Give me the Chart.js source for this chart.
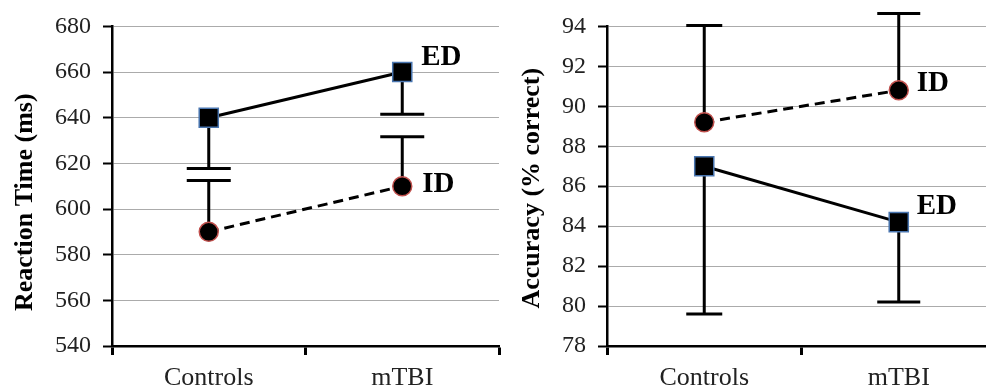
<!DOCTYPE html>
<html>
<head>
<meta charset="utf-8">
<script src="https://cdn.jsdelivr.net/npm/chart.js@4.4.1/dist/chart.umd.min.js"></script>
<style>
  html, body { margin:0; padding:0; background:#fff; overflow:hidden; width:986px; height:390px; }
  #c1 { position:absolute; left:0; top:0; }
  #c2 { position:absolute; left:500px; top:0; }
</style>
</head>
<body>
<canvas id="c1" width="514" height="390"></canvas>
<canvas id="c2" width="511" height="390"></canvas>
<script>
// ---- data ----
const categories = ['Controls', 'mTBI'];
// Reaction time (ms)
const rtED = [640, 660];
const rtID = [590, 610];
const rtEDErrEnd = [617.7, 641.5];   // one-sided (lower) error bar ends
const rtIDErrEnd = [612.5, 631.7];   // one-sided (upper) error bar ends
const rtAxis = { min: 540, max: 680, step: 20 };
// Accuracy (% correct)
const accID = [89.2, 90.8];
const accED = [87.0, 84.2];
const accIDErrEnd = [94.05, 94.65];  // upper
const accEDErrEnd = [79.6, 80.2];    // lower
const accAxis = { min: 78, max: 94, step: 2 };
const seriesTags = ['ED', 'ID'];
const yTitles = ['Reaction Time (ms)', 'Accuracy (% correct)'];

const FONT = "'Liberation Serif', 'Times New Roman', serif";

const errorBarPlugin = {
  id: 'errorBars',
  beforeDatasetsDraw(chart, args, opts) {
    const ctx = chart.ctx;
    const yScale = chart.scales.y;
    ctx.save();
    ctx.strokeStyle = '#000';
    ctx.lineWidth = opts.lineWidth;
    (opts.items || []).forEach(item => {
      const meta = chart.getDatasetMeta(item.datasetIndex);
      const vals = chart.data.datasets[item.datasetIndex].data;
      meta.data.forEach((pt, i) => {
        const x = pt.x;
        const y0 = yScale.getPixelForValue(vals[i]);
        const y1 = yScale.getPixelForValue(item.ends[i]);
        const cw = Array.isArray(opts.capWidth) ? opts.capWidth[i] : opts.capWidth;
        ctx.beginPath();
        ctx.moveTo(x, y0);
        ctx.lineTo(x, y1);
        ctx.moveTo(x - cw / 2, y1);
        ctx.lineTo(x + cw / 2, y1);
        ctx.stroke();
      });
    });
    ctx.restore();
  }
};

const tagPlugin = {
  id: 'seriesTags',
  afterDatasetsDraw(chart, args, opts) {
    const ctx = chart.ctx;
    ctx.save();
    ctx.font = 'bold 29px ' + FONT;
    ctx.fillStyle = '#000';
    ctx.textAlign = 'left';
    ctx.textBaseline = 'middle';
    (opts.items || []).forEach(item => {
      const meta = chart.getDatasetMeta(item.datasetIndex);
      const pt = meta.data[meta.data.length - 1];
      ctx.fillText(item.text, pt.x + item.dx, pt.y + item.dy);
    });
    ctx.restore();
  }
};

// vertical axis title drawn at an explicit spot beside the y scale
const sideTitlePlugin = {
  id: 'sideTitle',
  afterDraw(chart, args, opts) {
    const ctx = chart.ctx;
    const a = chart.chartArea;
    ctx.save();
    ctx.font = 'bold 26px ' + FONT;
    ctx.fillStyle = '#000';
    ctx.textAlign = 'center';
    ctx.textBaseline = 'middle';
    ctx.translate(opts.x, (a.top + a.bottom) / 2 + opts.dy);
    ctx.rotate(-Math.PI / 2);
    ctx.fillText(opts.text, 0, 0);
    ctx.restore();
  }
};

function makeScales(axis, yWidth) {
  return {
    x: {
      type: 'category',
      offset: true,
      grid: { drawOnChartArea: false, drawTicks: true, tickLength: 9, tickColor: '#000', tickWidth: 3, offset: true },
      border: { color: '#000', width: 2.5 },
      ticks: { font: { family: FONT, size: 26 }, color: '#222', padding: 8, maxRotation: 0 },
      afterFit(s) { s.height = 44; }
    },
    y: {
      min: axis.min, max: axis.max,
      grid: { color: '#ababab', lineWidth: 1, tickColor: '#000', tickLength: 9, tickWidth: 2 },
      border: { color: '#000', width: 2.5 },
      ticks: { stepSize: axis.step, font: { family: FONT, size: 24 }, color: '#222', padding: 12 },
      afterFit(s) { s.width = yWidth; }
    }
  };
}

function edDataset(data) {
  return { label: seriesTags[0], data, borderColor: '#000', borderWidth: 3, pointStyle: 'rect', pointRadius: 13.5,
           pointBackgroundColor: '#000', pointBorderColor: '#4a76b0', pointBorderWidth: 1.5, fill: false, tension: 0 };
}
function idDataset(data) {
  return { label: seriesTags[1], data, borderColor: '#000', borderWidth: 3, borderDash: [10, 6], pointStyle: 'circle', pointRadius: 9.5,
           pointBackgroundColor: '#000', pointBorderColor: '#c0504d', pointBorderWidth: 1.5, fill: false, tension: 0 };
}

new Chart(document.getElementById('c1'), {
  type: 'line',
  data: { labels: categories, datasets: [edDataset(rtED), idDataset(rtID)] },
  options: {
    responsive: false, animation: false,
    layout: { padding: { left: 0, top: 23, right: 0, bottom: 0 } },
    scales: makeScales(rtAxis, 112),
    plugins: {
      legend: { display: false }, tooltip: { enabled: false },
      sideTitle: { text: yTitles[0], x: 25, dy: 16 },
      errorBars: { lineWidth: 3, capWidth: 44, items: [ { datasetIndex: 0, ends: rtEDErrEnd }, { datasetIndex: 1, ends: rtIDErrEnd } ] },
      seriesTags: { items: [ { datasetIndex: 0, text: seriesTags[0], dx: 19, dy: -15 }, { datasetIndex: 1, text: seriesTags[1], dx: 20, dy: -2 } ] }
    }
  },
  plugins: [errorBarPlugin, tagPlugin, sideTitlePlugin]
});

new Chart(document.getElementById('c2'), {
  type: 'line',
  data: { labels: categories, datasets: [edDataset(accED), idDataset(accID)] },
  options: {
    responsive: false, animation: false,
    layout: { padding: { left: 0, top: 23, right: 0, bottom: 0 } },
    scales: makeScales(accAxis, 107),
    plugins: {
      legend: { display: false }, tooltip: { enabled: false },
      sideTitle: { text: yTitles[1], x: 32, dy: 2 },
      errorBars: { lineWidth: 3, capWidth: [36, 43], items: [ { datasetIndex: 0, ends: accEDErrEnd }, { datasetIndex: 1, ends: accIDErrEnd } ] },
      seriesTags: { items: [ { datasetIndex: 0, text: seriesTags[0], dx: 18, dy: -16 }, { datasetIndex: 1, text: seriesTags[1], dx: 18, dy: -7 } ] }
    }
  },
  plugins: [errorBarPlugin, tagPlugin, sideTitlePlugin]
});
</script>
</body>
</html>
